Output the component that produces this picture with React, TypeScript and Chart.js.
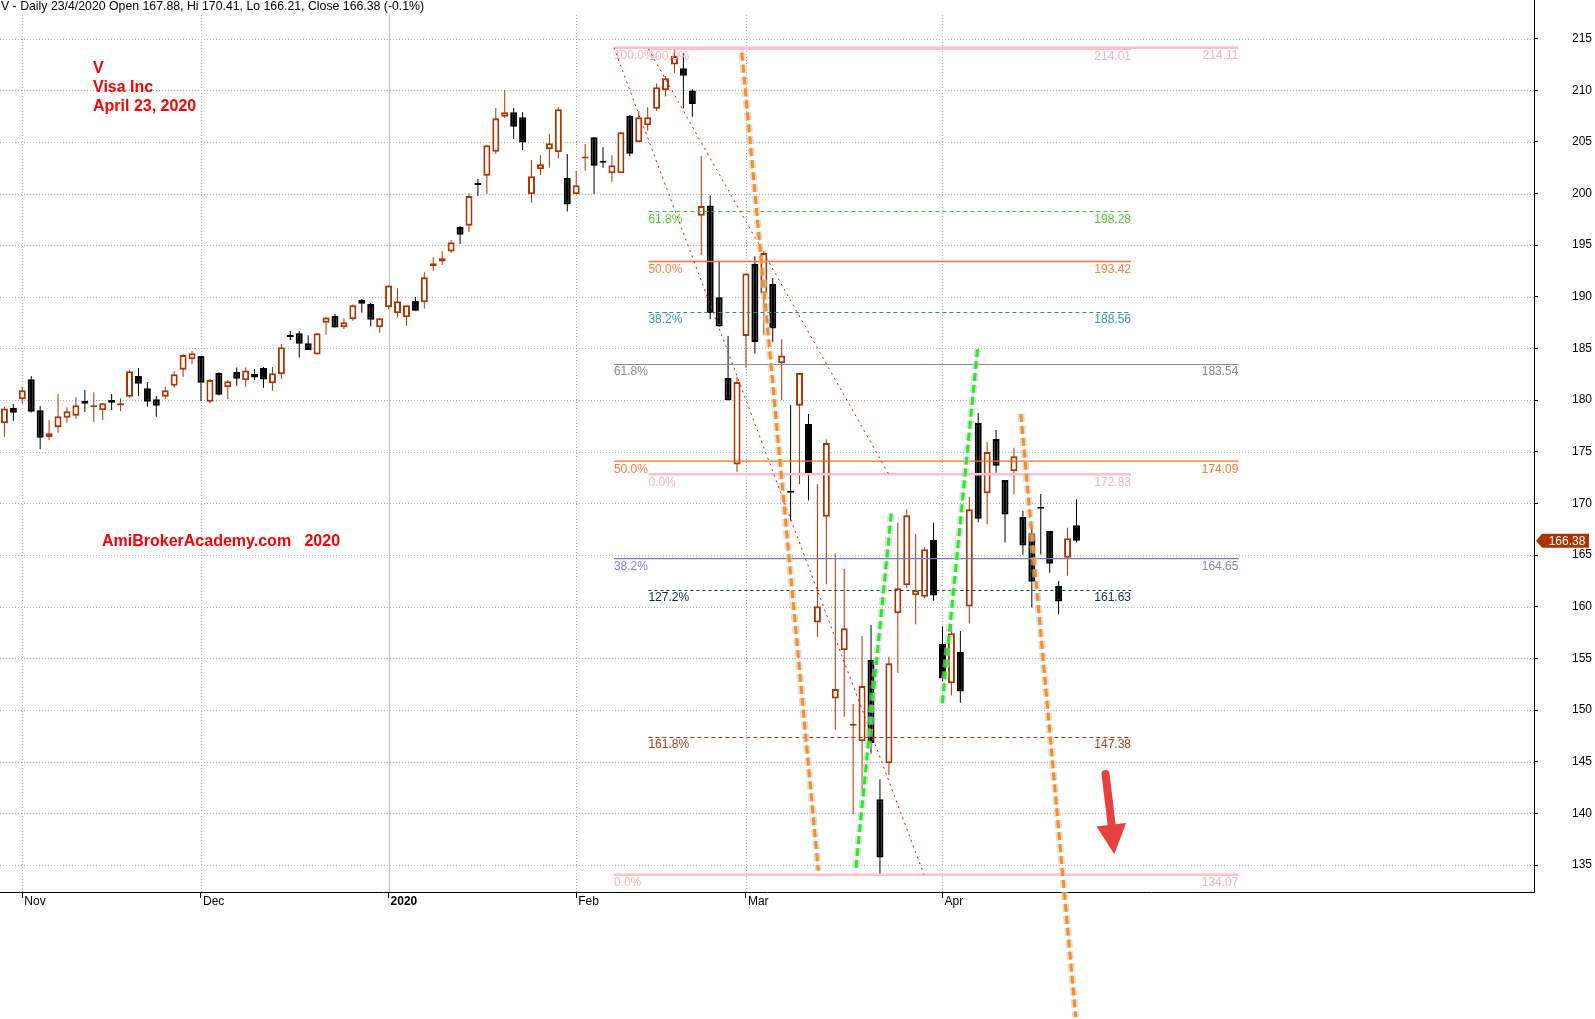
import React, { useEffect, useRef } from "react";
import { Chart, registerables } from "chart.js";
Chart.register(...registerables);

// ---------------- DATA ----------------
// Daily bars, index 0 = 30 Oct 2019 ... index 120 = 23 Apr 2020
const opens = [
  177.76, 179.24, 180.08, 182.01, 179.01, 176.4, 177.37, 178.3, 178.5, 179.92,
  179.38, 179.01, 180.01, 179.58, 180.34, 182.34, 181.14, 180.08, 180.34, 181.4,
  182.95, 183.95, 184.27, 179.85, 182.63, 181.24, 182.72, 181.92, 182.53, 183.12,
  181.63, 182.5, 186.23, 186.47, 185.5, 184.41, 187.5, 188.15, 187.05, 187.82,
  189.7, 189.31, 187.05, 188.98, 188.4, 188.02, 189.6, 189.47, 192.95, 193.41,
  194.38, 196.76, 196.89, 200.95, 201.73, 204.05, 207.44, 207.86, 207.38, 199.92,
  202.34, 204.28, 203.99, 201.5, 199.92, 203.46, 205.44, 203.1, 201.96, 201.96,
  207.5, 204.96, 206.6, 208.21, 209.99, 212.5, 212.12, 209.96, 197.86, 198.83,
  189.96, 182.15, 173.77, 186.22, 193.2, 190.32, 191.23, 183.57, 171.15, 179.46,
  177.68, 158.48, 168.71, 151.13, 155.79, 148.56, 146.98, 154.88, 141.37, 144.85,
  159.37, 162.08, 161.11, 160.98, 166.46, 156.4, 152.59, 155.62, 160.03, 177.79,
  170.98, 176.24, 172.27, 173.11, 168.69, 167.11, 169.6, 167.33, 162.01, 164.75,
  167.88,
];
const highs = [
  179.37, 179.63, 181.3, 182.34, 179.43, 178.08, 180.59, 179.3, 180.27, 180.98,
  180.76, 179.7, 180.59, 180.17, 182.92, 183.11, 181.75, 180.4, 181.3, 182.82,
  184.46, 184.76, 184.27, 182.05, 182.7, 181.95, 183.17, 183.17, 183.01, 183.2,
  183.21, 185.44, 186.7, 186.7, 186.28, 186.47, 188.02, 188.34, 187.92, 189.25,
  189.79, 189.4, 187.92, 191.12, 190.82, 189.18, 189.99, 192.37, 193.82, 194.44,
  195.51, 196.86, 200.02, 201.41, 204.67, 208.28, 210.02, 208.28, 207.86, 203.25,
  203.7, 205.76, 208.34, 203.83, 202.18, 204.8, 205.44, 204.47, 203.7, 205.99,
  207.6, 207.99, 208.34, 210.67, 211.38, 214.11, 213.57, 210.09, 203.63, 199.8,
  193.43, 186.22, 182.26, 192.28, 193.94, 194.43, 191.83, 185.9, 179.54, 182.62,
  178.67, 171.87, 176.18, 165.16, 163.65, 150.58, 157.18, 158.24, 143.31, 155.17,
  168.14, 169.43, 167.04, 165.82, 168.12, 158.08, 158.32, 157.66, 170.65, 178.75,
  175.95, 177.11, 172.27, 175.4, 169.3, 167.92, 170.92, 167.33, 162.5, 167.66,
  170.41,
];
const lows = [
  176.46, 178.01, 179.6, 178.8, 175.24, 176.14, 176.85, 177.82, 178.21, 178.85,
  177.9, 178.08, 179.04, 178.95, 180.24, 180.4, 179.37, 178.4, 180.11, 181.21,
  182.27, 183.47, 179.92, 179.69, 180.45, 180.11, 181.4, 181.3, 181.95, 181.2,
  180.92, 182.08, 185.82, 184.12, 184.86, 184.41, 186.34, 187.02, 186.89, 187.69,
  188.47, 187.12, 186.53, 188.79, 187.99, 187.21, 188.66, 188.86, 192.53, 193.09,
  194.25, 195.12, 196.28, 199.76, 199.96, 203.83, 207.34, 205.28, 204.22, 199.12,
  201.8, 202.5, 203.38, 198.25, 199.92, 202.22, 199.96, 202.5, 201.15, 201.96,
  203.63, 204.96, 206.09, 208.02, 209.38, 211.7, 208.25, 207.44, 194.05, 187.83,
  187.1, 179.97, 173.06, 183.13, 184.52, 186.29, 185.62, 180.01, 168.32, 171.87,
  170.29, 157.1, 162.19, 148.09, 149.35, 139.87, 142.16, 145.8, 134.07, 143.72,
  153.62, 161.85, 158.3, 160.82, 160.59, 152.8, 151.43, 150.72, 158.37, 168.17,
  167.98, 172.98, 166.21, 170.88, 165.05, 159.92, 165.05, 163.3, 159.27, 163.01,
  166.21,
];
const closes = [
  179.2, 178.79, 180.95, 178.88, 176.37, 176.79, 178.43, 178.92, 179.5, 179.66,
  179.42, 179.69, 179.75, 179.6, 182.79, 181.59, 179.85, 179.46, 180.95, 182.5,
  184.37, 184.53, 181.69, 181.95, 180.53, 181.82, 182.08, 182.88, 182.2, 181.99,
  182.6, 185.11, 186.18, 185.47, 184.86, 186.47, 188.0, 187.02, 187.53, 189.18,
  189.34, 187.79, 187.92, 191.1, 189.57, 189.18, 188.66, 191.89, 193.24, 193.73,
  195.28, 196.02, 199.76, 200.9, 204.67, 207.28, 207.86, 206.47, 204.93, 201.67,
  202.83, 204.86, 208.15, 198.93, 200.8, 203.5, 202.7, 203.05, 202.73, 205.93,
  203.86, 207.38, 207.38, 210.28, 211.15, 213.31, 211.41, 208.67, 198.8, 188.41,
  187.12, 179.99, 181.75, 192.26, 185.62, 194.24, 186.93, 184.32, 171.1, 182.62,
  172.94, 160.06, 175.86, 152.04, 157.93, 148.6, 152.32, 146.78, 135.72, 154.53,
  161.79, 168.85, 161.59, 165.56, 161.08, 153.06, 157.43, 151.79, 169.43, 168.53,
  174.98, 173.66, 168.92, 174.56, 165.92, 162.43, 169.55, 164.17, 160.5, 166.63,
  166.38,
];

const monthTickIndex = [2, 22, 43, 64, 83, 105];
const monthTickLabels = ["Nov", "Dec", "2020", "Feb", "Mar", "Apr"];
const priceTicks = [135, 140, 145, 150, 155, 160, 165, 170, 175, 180, 185, 190, 195, 200, 205, 210, 215];

// Fibonacci retracement 1 (214.11 -> 134.07)
const fibALabels = ["100.0%", "61.8%", "50.0%", "38.2%", "0.0%"];
const fibAValues = [214.11, 183.54, 174.09, 164.65, 134.07];
// Fibonacci retracement 2 (214.01 -> 172.83)
const fibBLabels = ["100.0%", "61.8%", "50.0%", "38.2%", "0.0%", "127.2%", "161.8%"];
const fibBValues = [214.01, 198.28, 193.42, 188.56, 172.83, 161.63, 147.38];

const lastClose = 166.38;
const headerText = "V - Daily 23/4/2020 Open 167.88, Hi 170.41, Lo 166.21, Close 166.38 (-0.1%)";
const titleLines = ["V", "Visa Inc", "April 23, 2020"];
const watermark = "AmiBrokerAcademy.com   2020";

// ---------------- ANNOTATION ANCHORS (bar index, price) ----------------
const fibARange = [68.22, 138.13];
const fibBRange = [72.08, 126.1];
const redTrendLines = [
  [[68.22, 214.11], [102.93, 134.07]],
  [[72.08, 214.01], [98.98, 172.83]],
];
const orangeTrendLines = [
  [[82.54, 213.64], [91.1, 134.46]],
  [[113.77, 178.67], [119.91, 120.29]],
];
const greenTrendLines = [
  [[95.31, 134.72], [99.31, 169.4]],
  [[104.98, 150.65], [108.97, 185.34]],
];
const arrowShaft = [[123.25, 143.82], [123.95, 138.78]];
const arrowHead = [[122.25, 138.74], [125.55, 139.08], [124.23, 136.04]];

// ---------------- STYLE ----------------
const FONT = '"Liberation Sans", Arial, Helvetica, sans-serif';
const UP = "#ad3300";
const DOWN = "#000000";
const GRID = "#b4b4b4";
const YEAR_GRID = "#c4c4c4";
const X_MIN = -0.496;
const X_MAX = 171.21;
const Y_MIN = 132.39;
const Y_MAX = 217.28;

type FibStyle = { line: string; width: number; dash: number[]; label: string };
const PINK: FibStyle = { line: "#ffc0cb", width: 2.5, dash: [], label: "#ffb0bd" };
const fibAStyles: FibStyle[] = [
  PINK,
  { line: "#8c8c8c", width: 1, dash: [], label: "#8a8a8a" },
  { line: "#ff6a1a", width: 1.3, dash: [], label: "#ff7733" },
  { line: "#7a7acc", width: 1.3, dash: [], label: "#8383cc" },
  PINK,
];
const fibBStyles: FibStyle[] = [
  PINK,
  { line: "#33cc33", width: 1, dash: [4, 3], label: "#4fd22f" },
  { line: "#ff7040", width: 1.3, dash: [], label: "#ff7f45" },
  { line: "#2e8b8b", width: 1, dash: [4, 3], label: "#3a9aa8" },
  PINK,
  { line: "#0b3b3b", width: 1, dash: [3, 3], label: "#0b2e4a" },
  { line: "#b03010", width: 1, dash: [4, 3], label: "#a4401c" },
];

const isUp = opens.map((o, i) => closes[i] >= o);
const bodyData = opens.map((o, i) => {
  let lo = Math.min(o, closes[i]);
  let hi = Math.max(o, closes[i]);
  if (hi - lo < 0.2) {
    const m = (hi + lo) / 2;
    lo = m - 0.1;
    hi = m + 0.1;
  }
  return { x: i, y: [lo, hi] };
});
const wickData = highs.map((h, i) => ({ x: i, y: [lows[i], h] }));

function strokeSeg(ctx: CanvasRenderingContext2D, x: any, y: any, seg: number[][]) {
  ctx.beginPath();
  ctx.moveTo(x.getPixelForValue(seg[0][0]), y.getPixelForValue(seg[0][1]));
  ctx.lineTo(x.getPixelForValue(seg[1][0]), y.getPixelForValue(seg[1][1]));
  ctx.stroke();
}

function drawFibLines(ctx: CanvasRenderingContext2D, x: any, y: any, range: number[], values: number[], styles: FibStyle[]) {
  const x0 = x.getPixelForValue(range[0]);
  const x1 = x.getPixelForValue(range[1]);
  values.forEach((v, k) => {
    const st = styles[k];
    const yy = y.getPixelForValue(v);
    const yl = st.width === 1 ? Math.round(yy) + 0.5 : yy;
    ctx.save();
    ctx.strokeStyle = st.line;
    ctx.lineWidth = st.width;
    ctx.setLineDash(st.dash);
    ctx.beginPath();
    ctx.moveTo(x0, yl);
    ctx.lineTo(x1, yl);
    ctx.stroke();
    ctx.restore();
  });
}

function drawFibLabels(ctx: CanvasRenderingContext2D, x: any, y: any, range: number[], labels: string[], values: number[], styles: FibStyle[]) {
  const x0 = x.getPixelForValue(range[0]);
  const x1 = x.getPixelForValue(range[1]);
  ctx.save();
  ctx.font = `12px ${FONT}`;
  ctx.textBaseline = "top";
  values.forEach((v, k) => {
    const yy = y.getPixelForValue(v) + 2;
    ctx.fillStyle = styles[k].label;
    ctx.textAlign = "left";
    ctx.fillText(labels[k], x0, yy);
    ctx.textAlign = "right";
    ctx.fillText(v.toFixed(2), x1, yy);
  });
  ctx.restore();
}

const amiPlugin = {
  id: "amiOverlay",
  beforeDatasetsDraw(chart: any) {
    const { ctx, chartArea: a, scales } = chart;
    const x = scales.x;
    const y = scales.y;
    ctx.save();
    ctx.lineWidth = 1;
    ctx.strokeStyle = GRID;
    ctx.setLineDash([1, 2]);
    priceTicks.forEach((v) => {
      const yy = Math.round(y.getPixelForValue(v)) + 0.5;
      ctx.beginPath();
      ctx.moveTo(a.left, yy);
      ctx.lineTo(a.right, yy);
      ctx.stroke();
    });
    monthTickIndex.forEach((idx, k) => {
      const xx = Math.round(x.getPixelForValue(idx)) + 0.5;
      if (monthTickLabels[k] === "2020") {
        ctx.setLineDash([]);
        ctx.strokeStyle = YEAR_GRID;
      } else {
        ctx.setLineDash([1, 2]);
        ctx.strokeStyle = GRID;
      }
      ctx.beginPath();
      ctx.moveTo(xx, a.top);
      ctx.lineTo(xx, a.bottom);
      ctx.stroke();
    });
    ctx.restore();
  },
  afterDatasetsDraw(chart: any) {
    const { ctx, scales } = chart;
    const x = scales.x;
    const y = scales.y;
    drawFibLines(ctx, x, y, fibARange, fibAValues, fibAStyles);
    drawFibLines(ctx, x, y, fibBRange, fibBValues, fibBStyles);
    drawFibLabels(ctx, x, y, fibARange, fibALabels, fibAValues, fibAStyles);
    drawFibLabels(ctx, x, y, fibBRange, fibBLabels, fibBValues, fibBStyles);

    ctx.save();
    ctx.strokeStyle = "#ff0000";
    ctx.lineWidth = 1;
    ctx.setLineDash([2, 4]);
    redTrendLines.forEach((s) => strokeSeg(ctx, x, y, s));
    ctx.restore();

    const glow = (segs: number[][][], color: string) => {
      segs.forEach((s) => {
        ctx.save();
        ctx.setLineDash([8, 4]);
        ctx.lineCap = "butt";
        ctx.strokeStyle = "rgba(200,200,200,0.6)";
        ctx.lineWidth = 7;
        strokeSeg(ctx, x, y, s);
        ctx.strokeStyle = color;
        ctx.lineWidth = 3;
        strokeSeg(ctx, x, y, s);
        ctx.restore();
      });
    };
    glow(orangeTrendLines, "#ff8c1a");
    glow(greenTrendLines, "#22ee22");

    ctx.save();
    ctx.strokeStyle = "#e8403c";
    ctx.fillStyle = "#e8403c";
    ctx.lineWidth = 8;
    ctx.lineCap = "round";
    strokeSeg(ctx, x, y, arrowShaft);
    ctx.beginPath();
    arrowHead.forEach((p, k) => {
      const px = x.getPixelForValue(p[0]);
      const py = y.getPixelForValue(p[1]);
      if (k === 0) ctx.moveTo(px, py);
      else ctx.lineTo(px, py);
    });
    ctx.closePath();
    ctx.fill();
    ctx.restore();
  },
  afterDraw(chart: any) {
    const { ctx, chartArea: a, scales } = chart;
    const y = scales.y;
    ctx.save();
    ctx.strokeStyle = "#000";
    ctx.lineWidth = 1;
    ctx.beginPath();
    ctx.moveTo(Math.round(a.right) + 0.5, 0);
    ctx.lineTo(Math.round(a.right) + 0.5, a.top);
    ctx.stroke();

    ctx.fillStyle = "#000";
    ctx.font = `12.3px ${FONT}`;
    ctx.textBaseline = "middle";
    ctx.textAlign = "left";
    ctx.fillText(headerText, 1, 7);

    ctx.fillStyle = "#ff0000";
    ctx.font = `bold 16px ${FONT}`;
    titleLines.forEach((t, k) => ctx.fillText(t, 93, 68.5 + k * 18.8));
    ctx.fillText(watermark, 102, 542);

    const yy = y.getPixelForValue(lastClose);
    const xl = a.right + 2;
    ctx.fillStyle = UP;
    ctx.beginPath();
    ctx.moveTo(xl, yy);
    ctx.lineTo(xl + 6, yy - 7);
    ctx.lineTo(xl + 53, yy - 7);
    ctx.lineTo(xl + 53, yy + 7);
    ctx.lineTo(xl + 6, yy + 7);
    ctx.closePath();
    ctx.fill();
    ctx.fillStyle = "#fff";
    ctx.font = `12px ${FONT}`;
    ctx.textAlign = "center";
    ctx.fillText(lastClose.toFixed(2), xl + 31, yy + 0.5);
    ctx.restore();
  },
};

export default function App() {
  const ref = useRef<HTMLCanvasElement | null>(null);
  useEffect(() => {
    const canvas = ref.current;
    if (!canvas) return;
    const chart = new Chart(canvas, {
      type: "bar",
      data: {
        datasets: [
          {
            label: "Body",
            data: bodyData as any,
            backgroundColor: isUp.map((u) => (u ? "#ffffff" : DOWN)),
            borderColor: isUp.map((u) => (u ? UP : DOWN)),
            borderWidth: 2,
            borderSkipped: false,
            barThickness: 7,
            maxBarThickness: 7,
            grouped: false,
            inflateAmount: 0,
          } as any,
          {
            label: "Wick",
            data: wickData as any,
            backgroundColor: isUp.map((u) => (u ? UP : DOWN)),
            borderWidth: 0,
            barThickness: 1,
            maxBarThickness: 1,
            grouped: false,
            inflateAmount: 0,
          } as any,
        ],
      },
      options: {
        responsive: false,
        animation: false,
        devicePixelRatio: 1,
        events: [],
        layout: { padding: { top: 15, left: 0, right: 0, bottom: 0 } },
        plugins: {
          legend: { display: false },
          tooltip: { enabled: false },
          title: { display: false },
        },
        scales: {
          x: {
            type: "linear",
            position: "bottom",
            min: X_MIN,
            max: X_MAX,
            offset: false,
            afterFit: (s: any) => {
              s.height = 127;
              s.paddingLeft = 0;
              s.paddingRight = 0;
            },
            afterBuildTicks: (s: any) => {
              s.ticks = monthTickIndex.map((v) => ({ value: v }));
            },
            grid: {
              display: true,
              drawOnChartArea: false,
              drawTicks: true,
              tickLength: 6,
              tickColor: "#000",
              offset: false,
            },
            border: { display: true, color: "#000", width: 1 },
            ticks: {
              autoSkip: false,
              maxRotation: 0,
              minRotation: 0,
              align: "start",
              padding: -4,
              labelOffset: 2,
              color: "#000",
              font: (c: any) => {
                const k = c.tick ? monthTickIndex.indexOf(c.tick.value) : -1;
                return { family: FONT, size: 12, weight: k >= 0 && monthTickLabels[k] === "2020" ? "bold" : "normal" };
              },
              callback: (v: any) => {
                const k = monthTickIndex.indexOf(Number(v));
                return k >= 0 ? monthTickLabels[k] : "";
              },
            },
          } as any,
          y: {
            type: "linear",
            position: "right",
            min: Y_MIN,
            max: Y_MAX,
            afterFit: (s: any) => {
              s.width = 61;
              s.paddingTop = 0;
              s.paddingBottom = 0;
            },
            afterBuildTicks: (s: any) => {
              s.ticks = priceTicks.map((v) => ({ value: v }));
            },
            grid: {
              display: true,
              drawOnChartArea: false,
              drawTicks: true,
              tickLength: 4,
              tickColor: "#000",
            },
            border: { display: true, color: "#000", width: 1 },
            ticks: {
              padding: 34,
              color: "#000",
              font: { family: FONT, size: 12 },
              callback: (v: any) => String(v),
            },
          } as any,
        },
      },
      plugins: [amiPlugin as any],
    });
    return () => chart.destroy();
  }, []);
  return (
    <div style={{ position: "fixed", left: 0, top: 0, width: 1595, height: 1019, background: "#ffffff" }}>
      <canvas ref={ref} width={1595} height={1019} style={{ display: "block", width: 1595, height: 1019 }} />
    </div>
  );
}
